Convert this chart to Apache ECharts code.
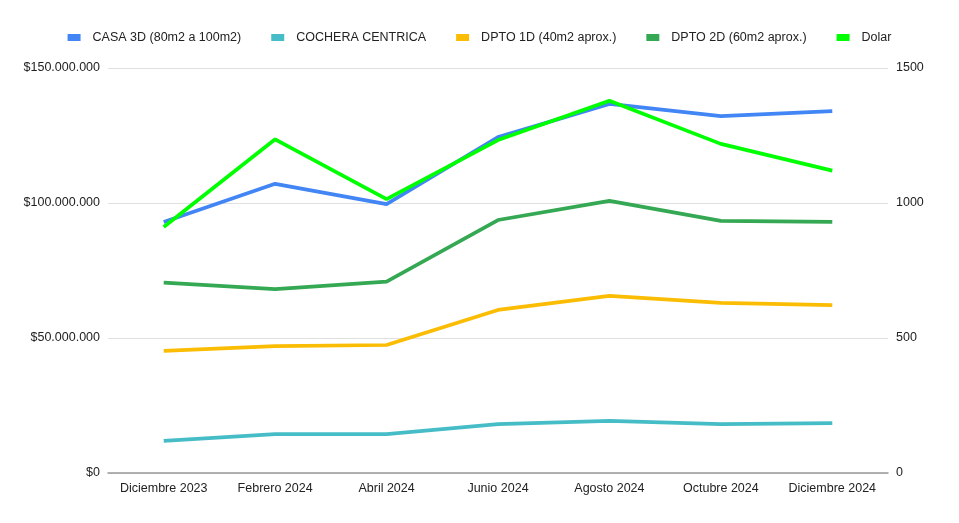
<!DOCTYPE html>
<html>
<head>
<meta charset="utf-8">
<script src="https://cdn.jsdelivr.net/npm/echarts@6/dist/echarts.min.js"></script>
<style>html,body{margin:0;padding:0;background:#fff;}#c{width:959px;height:523px;}</style>
</head>
<body>
<div id="c"></div>
<script>
const categories = ['Diciembre 2023','Febrero 2024','Abril 2024','Junio 2024','Agosto 2024','Octubre 2024','Diciembre 2024'];
const casa3d = [93000000,107100000,99600000,124400000,136700000,132200000,134000000];
const cochera = [11900000,14400000,14400000,18100000,19300000,18100000,18500000];
const dpto1d = [45200000,47000000,47400000,60400000,65600000,63000000,62200000];
const dpto2d = [70500000,68100000,70900000,93700000,100800000,93400000,93000000];
const dolar = [911,1236,1014,1233,1379,1219,1120];
const seriesNames = ['CASA 3D (80m2 a 100m2)','COCHERA CENTRICA','DPTO 1D (40m2 aprox.)','DPTO 2D (60m2 aprox.)','Dolar'];
const colors = ['#4285F4','#46BDC6','#FBBC04','#34A853','#00FF00'];

function fmtMoney(v){
  return '$' + String(Math.round(v)).replace(/\B(?=(\d{3})+(?!\d))/g,'.');
}
const chart = echarts.init(document.getElementById('c'));
const font = 'Liberation Sans, Arial, sans-serif';
const mk = (name, data, color, yi) => ({
  name, type:'line', data, yAxisIndex: yi, symbol:'none', smooth:false,
  lineStyle:{width:3.7, color}, itemStyle:{color}
});
chart.setOption({
  animation:false,
  textStyle:{fontFamily:font},
  color: colors,
  legend:{
    top:26, left:'center', itemWidth:13, itemHeight:7, itemGap:30,
    icon:'rect',
    textStyle:{fontFamily:font, fontSize:12.5, color:'#222', padding:[0,0,0,7]},
    data: seriesNames
  },
  grid:{left:108, right:71, top:68, bottom:50, containLabel:false},
  xAxis:{
    type:'category', data:categories, boundaryGap:true,
    axisLine:{lineStyle:{color:'#999', width:1.5}},
    axisTick:{show:false},
    axisLabel:{fontFamily:font, fontSize:12.5, color:'#222', margin:9, interval:0}
  },
  yAxis:[
    {type:'value', min:0, max:150000000, interval:50000000,
     axisLine:{show:false}, axisTick:{show:false},
     splitLine:{lineStyle:{color:'#e0e0e0', width:1}},
     axisLabel:{fontFamily:font, fontSize:12.5, color:'#222', formatter:fmtMoney, margin:8}},
    {type:'value', min:0, max:1500, interval:500,
     axisLine:{show:false}, axisTick:{show:false}, splitLine:{show:false},
     axisLabel:{fontFamily:font, fontSize:12.5, color:'#222', margin:8, formatter: v => String(v)}}
  ],
  series:[
    mk(seriesNames[0], casa3d, colors[0], 0),
    mk(seriesNames[1], cochera, colors[1], 0),
    mk(seriesNames[2], dpto1d, colors[2], 0),
    mk(seriesNames[3], dpto2d, colors[3], 0),
    mk(seriesNames[4], dolar, colors[4], 1)
  ]
});
</script>
</body>
</html>
